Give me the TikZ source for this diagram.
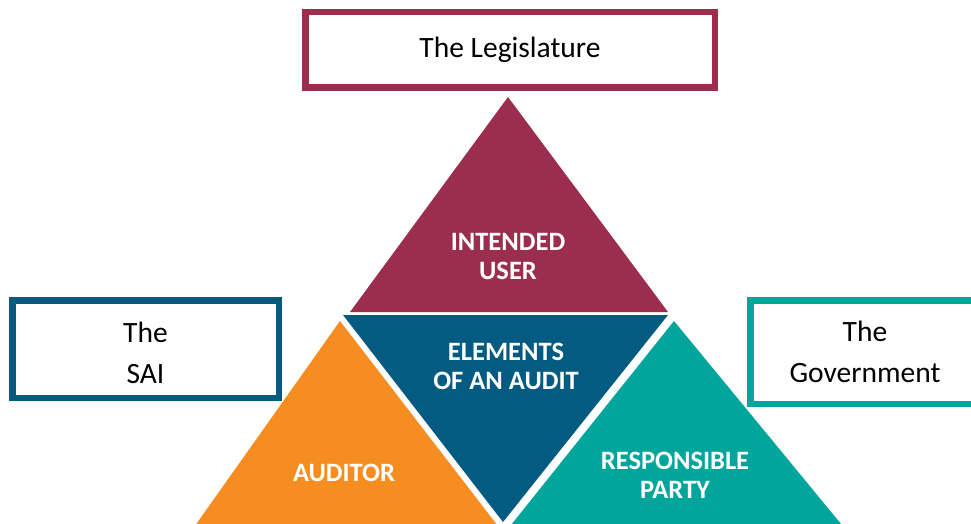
\documentclass[tikz,border=0pt]{standalone}
\usepackage{fontspec}
\setmainfont{Carlito}
\usepackage{xcolor}
\usetikzlibrary{positioning}

\definecolor{legis}{HTML}{9B2D4F}
\definecolor{sai}{HTML}{035B82}
\definecolor{audor}{HTML}{F68D21}
\definecolor{govt}{HTML}{00A69C}

\begin{document}
\begin{tikzpicture}[x=1pt, y=-1pt,
    party/.style={draw, line width=6.5pt, fill=white, align=center, inner sep=0pt,
        font=\fontsize{29.5}{41}\selectfont},
    role/.style={text=white, align=center, inner sep=0pt,
        font=\fontsize{26.5}{29}\selectfont\bfseries}]
    \useasboundingbox (0,0) rectangle (971,524);
    \clip (0,0) rectangle (971,524);
    % corners of the triangles
    \coordinate (t1) at (508,97);
    \coordinate (t2) at (350,312);
    \coordinate (t3) at (668,312);
    \coordinate (m1) at (343,315);
    \coordinate (m2) at (668,315);
    \coordinate (m3) at (503,522);
    \coordinate (l1) at (340,321);
    \coordinate (l2) at (192,530);
    \coordinate (l3) at (501,530);
    \coordinate (r1) at (674,321);
    \coordinate (r2) at (507,530);
    \coordinate (r3) at (846,530);
    \fill[legis] (t1) -- (t2) -- (t3) -- cycle;
    \fill[sai] (m1) -- (m2) -- (m3) -- cycle;
    \fill[audor] (l1) -- (l2) -- (l3) -- cycle;
    \fill[govt] (r1) -- (r2) -- (r3) -- cycle;
    % boxes
    \node (leg) at (510,50) [party, draw=legis, minimum width=409.5pt, minimum height=75.5pt] {The Legislature};
    \node (sa) at (145.5,349) [party, draw=sai, minimum width=266.5pt, minimum height=97.5pt] {\strut The\\SAI};
    \node (gov) at (865,352) [party, draw=govt, minimum width=229.5pt, minimum height=103.5pt] {The\\Government};
    % labels
    \node (iu) at (508,256.5) [role] {INTENDED\\USER};
    \node (el) at (506,366.5) [role] {ELEMENTS\\OF AN AUDIT};
    \node (au) at (344,473) [role] {AUDITOR};
    \node (rp) at (675,475) [role] {RESPONSIBLE\\PARTY};
\end{tikzpicture}
\end{document}
